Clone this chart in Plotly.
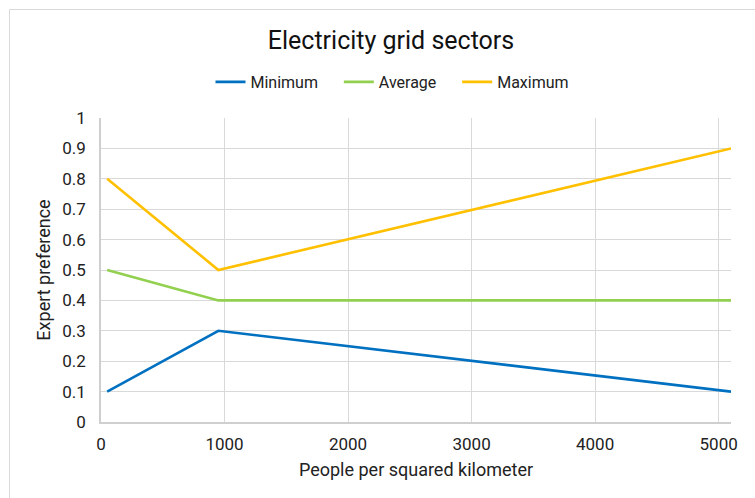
import plotly.graph_objects as go

x_vals = [50, 950, 5100]
minimum = [0.1, 0.3, 0.1]
average = [0.5, 0.4, 0.4]
maximum = [0.8, 0.5, 0.9]
series_names = ["Minimum", "Average", "Maximum"]
colors = ["#0070C0", "#92D050", "#FFC000"]

FONT = "Roboto"
PAD = "\u00a0" * 4
fig = go.Figure()
for name, ys, c in zip(series_names, [minimum, average, maximum], colors):
    fig.add_trace(go.Scatter(x=x_vals, y=ys, mode="lines", name=name + PAD,
                             line=dict(color=c, width=2.6)))

L, R, T, B = 101, 24, 118, 76
W, H = 755, 498
pw, ph = W - L - R, H - T - B

def px(xp):
    return (xp - L) / pw

def py(yp):
    return 1 - (yp - T) / ph

fig.update_layout(
    width=W, height=H,
    margin=dict(l=L, r=R, t=T, b=B),
    paper_bgcolor="white", plot_bgcolor="white",
    font=dict(family=FONT, color="#222222", size=17),
    title=dict(text="Electricity grid sectors", x=px(391), xref="paper",
               xanchor="center", y=1 - 40 / H, yanchor="middle",
               font=dict(size=25, color="#111111")),
    legend=dict(orientation="h", x=px(400), xanchor="center", xref="paper",
                y=py(82), yanchor="middle", font=dict(size=16, color="#222222"),
                itemwidth=30, tracegroupgap=0),
    xaxis=dict(range=[0, 5100], tickvals=[0, 1000, 2000, 3000, 4000, 5000],
               showgrid=True, gridcolor="#d9d9d9", gridwidth=1,
               showline=True, linecolor="#cfcfcf", linewidth=1.5,
               zeroline=False, ticks="", tickfont=dict(size=17),
               ticklabelstandoff=6,
               title=dict(text="People per squared kilometer", font=dict(size=18), standoff=10)),
    yaxis=dict(range=[0, 1], tickvals=[i / 10 for i in range(11)],
               ticktext=["0", "0.1", "0.2", "0.3", "0.4", "0.5", "0.6", "0.7", "0.8", "0.9", "1"],
               showgrid=True, gridcolor="#d9d9d9", gridwidth=1,
               showline=True, linecolor="#cfcfcf", linewidth=1.5, mirror=False,
               zeroline=False, ticks="", tickfont=dict(size=17),
               ticklabelstandoff=10,
               title=dict(text="Expert preference", font=dict(size=18), standoff=7)),
    shapes=[
        dict(type="line", xref="paper", yref="paper", x0=px(9.5), x1=px(760),
             y0=py(9.5), y1=py(9.5), line=dict(color="#d9d9d9", width=1)),
        dict(type="line", xref="paper", yref="paper", x0=px(9.5), x1=px(9.5),
             y0=py(9.5), y1=py(505), line=dict(color="#d9d9d9", width=1)),
    ],
)
fig.write_html("out.html")
